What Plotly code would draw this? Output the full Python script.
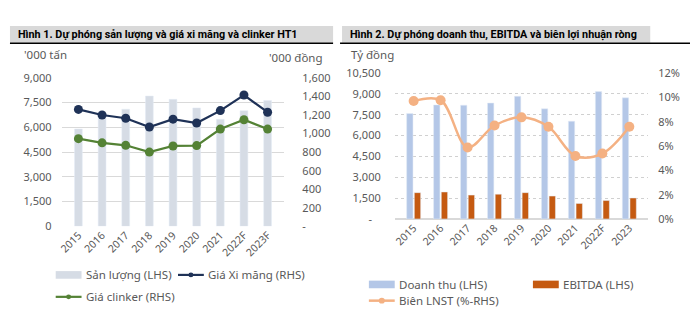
import plotly.graph_objects as go

W, H = 690, 321

# ---- Hình 1 data ----
years1 = ["2015", "2016", "2017", "2018", "2019", "2020", "2021", "2022F", "2023F"]
san_luong = [5900, 6700, 7100, 7900, 7700, 7180, 6490, 7010, 7630]
gia_xi_mang = [1260, 1200, 1165, 1070, 1155, 1113, 1247, 1415, 1230]
gia_clinker = [945, 900, 873, 800, 866, 870, 1048, 1148, 1048]
y1_ticks = [0, 1500, 3000, 4500, 6000, 7500, 9000]
y1_text = ["0", "1,500", "3,000", "4,500", "6,000", "7,500", "9,000"]
y2_ticks = [0, 200, 400, 600, 800, 1000, 1200, 1400, 1600]
y2_text = ["-", "200", "400", "600", "800", "1,000", "1,200", "1,400", "1,600"]

# ---- Hình 2 data ----
years2 = ["2015", "2016", "2017", "2018", "2019", "2020", "2021", "2022F", "2023"]
doanh_thu = [7590, 8210, 8190, 8345, 8830, 7930, 7040, 9170, 8720]
ebitda = [1894, 1942, 1716, 1784, 1894, 1647, 1119, 1325, 1510]
bien_lnst = [9.7, 9.77, 5.88, 7.69, 8.36, 7.58, 5.18, 5.38, 7.58]
y3_ticks = [0, 1500, 3000, 4500, 6000, 7500, 9000, 10500]
y3_text = ["-\u00a0\u00a0\u00a0", "1,500", "3,000", "4,500", "6,000", "7,500", "9,000", "10,500"]
y4_ticks = [0, 2, 4, 6, 8, 10, 12]
y4_text = ["0%", "2%", "4%", "6%", "8%", "10%", "12%"]

FONT = "Noto Sans"
TICK = dict(family=FONT, size=11, color="#595959")
GREY_TXT = "#595959"


def px(x):
    return x / W


def py(y):
    return 1 - y / H


fig = go.Figure()

# Hình 1 traces
fig.add_trace(go.Bar(x=years1, y=san_luong, width=0.33, marker_color="#d6dce5",
                     xaxis="x", yaxis="y", name="Sản lượng (LHS)"))
fig.add_trace(go.Scatter(x=years1, y=gia_xi_mang, mode="lines+markers",
                         line=dict(color="#1f3257", width=2.2),
                         marker=dict(size=9, color="#1f3257"),
                         xaxis="x", yaxis="y2", name="Giá Xi măng (RHS)"))
fig.add_trace(go.Scatter(x=years1, y=gia_clinker, mode="lines+markers",
                         line=dict(color="#548235", width=2.2),
                         marker=dict(size=9, color="#548235"),
                         xaxis="x", yaxis="y2", name="Giá clinker (RHS)"))

# Hình 2 traces
fig.add_trace(go.Bar(x=years2, y=doanh_thu, width=0.235, offset=-0.26,
                     marker_color="#b4c7e7", xaxis="x2", yaxis="y3", name="Doanh thu (LHS)"))
fig.add_trace(go.Bar(x=years2, y=ebitda, width=0.235, offset=0.025,
                     marker_color="#c55a11", xaxis="x2", yaxis="y3", name="EBITDA (LHS)"))
fig.add_trace(go.Scatter(x=years2, y=bien_lnst, mode="lines+markers",
                         line=dict(color="#f4b183", width=2.5, shape="spline", smoothing=1.0),
                         marker=dict(size=10, color="#f4b183"),
                         xaxis="x2", yaxis="y4", name="Biên LNST (%-RHS)"))

xcommon = dict(type="category", tickangle=-45, tickfont=dict(family=FONT, size=10.5, color=GREY_TXT),
               showgrid=False, showline=False, ticks="", zeroline=False, fixedrange=True)

fig.update_layout(
    width=W, height=H, autosize=False,
    margin=dict(l=0, r=0, t=0, b=0),
    paper_bgcolor="white", plot_bgcolor="rgba(0,0,0,0)",
    showlegend=False, barmode="overlay",
    xaxis=dict(domain=[px(58), px(282)], anchor="y", **xcommon),
    yaxis=dict(domain=[py(229), py(73.3)], range=[0, 9000], tickvals=y1_ticks, ticktext=y1_text,
               tickfont=TICK, showgrid=True, gridcolor="#d9d9d9", gridwidth=1,
               zeroline=False, showline=False, ticks="", ticklabelstandoff=9),
    yaxis2=dict(domain=[py(229), py(73.3)], range=[0, 1600], overlaying="y", side="right",
                anchor="x", tickvals=y2_ticks, ticktext=y2_text, tickfont=TICK, showgrid=False,
                zeroline=False, showline=False, ticks="", ticklabelstandoff=17),
    xaxis2=dict(domain=[px(393), px(648)], anchor="y3", **xcommon),
    yaxis3=dict(domain=[py(221.3), py(68.3)], range=[0, 10500], anchor="x2",
                tickvals=y3_ticks, ticktext=y3_text, tickfont=TICK, showgrid=True,
                gridcolor="#d0d0d0", griddash="dot", gridwidth=1,
                zeroline=True, zerolinecolor="#d9d9d9", zerolinewidth=2,
                showline=False, ticks="", ticklabelstandoff=13),
    yaxis4=dict(domain=[py(221.3), py(68.3)], range=[0, 12], overlaying="y3", side="right",
                anchor="x2", tickvals=y4_ticks, ticktext=y4_text, tickfont=TICK, showgrid=False,
                zeroline=False, showline=False, ticks="", ticklabelstandoff=9),
)

shapes = []
annotations = []

# title bars
for x0, x1, title in [(6, 331, "Hình 1. Dự phóng sản lượng và giá xi măng và clinker HT1"),
                      (340, 650, "Hình 2. Dự phóng doanh thu, EBITDA và biên lợi nhuận ròng")]:
    shapes.append(dict(type="rect", xref="paper", yref="paper", x0=px(x0), x1=px(x1),
                       y0=py(36.5), y1=py(19), fillcolor="#d9d9d9", line_width=0, layer="below"))
    annotations.append(dict(text="<b>" + title + "</b>", xref="paper", yref="paper",
                            x=px(x0 + 6), y=py(28), xanchor="left", yanchor="middle",
                            showarrow=False, font=dict(family="Roboto", size=10.8, color="#000000")))
shapes.append(dict(type="line", xref="paper", yref="paper", x0=px(6), x1=px(331), y0=py(37), y1=py(37),
                   line=dict(color="#000000", width=1.5)))
shapes.append(dict(type="line", xref="paper", yref="paper", x0=px(338), x1=px(690), y0=py(37), y1=py(37),
                   line=dict(color="#000000", width=1.5)))

# axis unit labels
for x, y, t, anc in [(18, 49, "'000 tấn", "left"), (323, 52, "'000 đồng", "right"), (347, 49, "Tỷ đồng", "left")]:
    annotations.append(dict(text=t, xref="paper", yref="paper", x=px(x), y=py(y), xanchor=anc,
                            yanchor="middle", showarrow=False, font=dict(family=FONT, size=11.5, color=GREY_TXT)))


# legends
def legend_box(x, y, color, label, w=26, h=8):
    shapes.append(dict(type="rect", xref="paper", yref="paper", x0=px(x), x1=px(x + w),
                       y0=py(y + h / 2), y1=py(y - h / 2), fillcolor=color, line_width=0))
    annotations.append(dict(text=label, xref="paper", yref="paper", x=px(x + w + 2), y=py(y),
                            xanchor="left", yanchor="middle", showarrow=False,
                            font=dict(family=FONT, size=11.5, color=GREY_TXT)))


def legend_line(x, y, color, label, w=26, width=2.2, ms=5):
    shapes.append(dict(type="line", xref="paper", yref="paper", x0=px(x), x1=px(x + w),
                       y0=py(y), y1=py(y), line=dict(color=color, width=width)))
    shapes.append(dict(type="circle", xref="paper", yref="paper", x0=px(x + w / 2 - ms / 2),
                       x1=px(x + w / 2 + ms / 2), y0=py(y + ms / 2), y1=py(y - ms / 2),
                       fillcolor=color, line_width=0))
    annotations.append(dict(text=label, xref="paper", yref="paper", x=px(x + w + 2), y=py(y),
                            xanchor="left", yanchor="middle", showarrow=False,
                            font=dict(family=FONT, size=11.5, color=GREY_TXT)))


legend_box(52, 280, "#d6dce5", "Sản lượng (LHS)")
legend_line(175, 280, "#1f3257", "Giá Xi măng (RHS)")
legend_line(52, 303, "#548235", "Giá clinker (RHS)")
legend_box(367, 290, "#b4c7e7", "Doanh thu (LHS)")
legend_box(532, 290, "#c55a11", "EBITDA (LHS)")
legend_line(367, 307, "#f4b183", "Biên LNST (%-RHS)", width=2.5, ms=6)

fig.update_layout(shapes=shapes, annotations=annotations)
fig.write_html("out.html")
